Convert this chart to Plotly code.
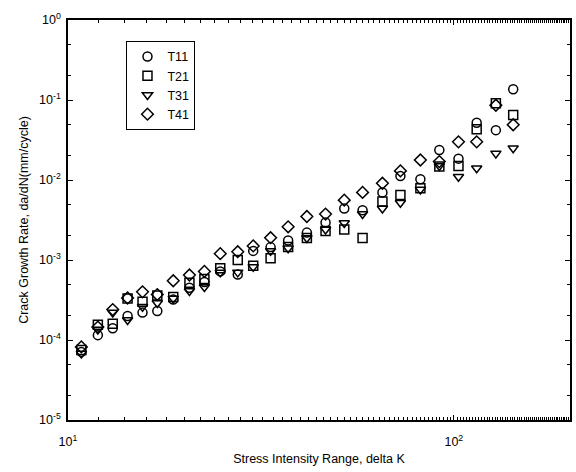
import plotly.graph_objects as go

# Stress intensity range (delta K) columns
delta_k = [10.83, 11.95, 13.06, 14.27, 15.6, 17.04, 18.74, 20.64, 22.57, 24.81,
           27.54, 30.2, 33.5, 37.2, 41.6, 46.5, 52.0, 58.0, 65.3, 72.7,
           81.9, 91.7, 102.8, 114.6, 128.5, 142.5]

t11 = [7.1e-5, 1.15e-4, 1.4e-4, 2.0e-4, 2.2e-4, 2.3e-4, 3.2e-4, 4.5e-4, 5.3e-4, 7.2e-4,
       6.6e-4, 1.3e-3, 1.45e-3, 1.75e-3, 2.2e-3, 2.95e-3, 4.4e-3, 4.2e-3, 7.0e-3, 1.12e-2,
       1.02e-2, 2.37e-2, 1.85e-2, 5.2e-2, 4.2e-2, 1.36e-1]
t21 = [7.5e-5, 1.55e-4, 1.6e-4, 3.3e-4, 3.0e-4, 3.6e-4, 3.45e-4, 5.2e-4, 5.8e-4, 7.9e-4,
       1.0e-3, 8.5e-4, 1.05e-3, 1.45e-3, 1.88e-3, 2.3e-3, 2.4e-3, 1.88e-3, 5.4e-3, 6.5e-3,
       7.9e-3, 1.47e-2, 1.5e-2, 4.3e-2, 9.1e-2, 6.5e-2]
t31 = [6.8e-5, 1.35e-4, 2.2e-4, 1.78e-4, 2.6e-4, 2.9e-4, 3.3e-4, 4.1e-4, 4.6e-4, 7.0e-4,
       7.0e-4, 8.2e-4, 1.3e-3, 1.4e-3, 1.88e-3, 2.4e-3, 2.9e-3, 3.75e-3, 4.4e-3, 5.2e-3,
       7.6e-3, 1.5e-2, 1.1e-2, 1.4e-2, 2.15e-2, 2.5e-2]
t41 = [8.2e-5, 1.45e-4, 2.4e-4, 3.35e-4, 4.0e-4, 3.7e-4, 5.5e-4, 6.5e-4, 7.2e-4, 1.2e-3,
       1.27e-3, 1.5e-3, 1.9e-3, 2.6e-3, 3.5e-3, 3.75e-3, 5.6e-3, 7.0e-3, 9.1e-3, 1.3e-2,
       1.78e-2, 1.7e-2, 3.0e-2, 3.0e-2, 8.6e-2, 4.9e-2]

series_names = ["T11", "T21", "T31", "T41"]
series_values = [t11, t21, t31, t41]
series_symbols = ["circle-open", "square-open", "triangle-down-open", "diamond-open"]

x_tickvals = [10, 100]
x_ticktext = ["10<sup>1</sup>", "10<sup>2</sup>"]
y_tickvals = [1e-5, 1e-4, 1e-3, 1e-2, 1e-1, 1]
y_ticktext = ["10<sup>-5</sup>", "10<sup>-4</sup>", "10<sup>-3</sup>",
              "10<sup>-2</sup>", "10<sup>-1</sup>", "10<sup>0</sup>"]

fig = go.Figure()
for name, vals, sym in zip(series_names, series_values, series_symbols):
    fig.add_trace(go.Scatter(
        x=delta_k, y=vals, mode="markers", name=name,
        marker=dict(symbol=sym, size=9, color="black", line=dict(width=1.5, color="black")),
    ))

font_family = "Liberation Sans, Arial, sans-serif"
fig.update_layout(
    width=576, height=472,
    margin=dict(l=68, r=4, t=20, b=52),
    paper_bgcolor="white", plot_bgcolor="white",
    font=dict(family=font_family, size=12, color="black"),
    legend=dict(
        x=0.1165, y=0.948, xanchor="left", yanchor="top",
        bordercolor="black", borderwidth=1, bgcolor="white",
        font=dict(size=12.5, family=font_family, color="black"),
        tracegroupgap=0, itemwidth=30,
    ),
    showlegend=True,
)
fig.update_xaxes(
    type="log", range=[1, 2.30103],
    tickvals=x_tickvals, ticktext=x_ticktext,
    ticks="inside", ticklen=5, tickcolor="black", tickwidth=1,
    minor=dict(ticks="inside", ticklen=3, tickcolor="black", showgrid=False),
    showline=True, linecolor="black", linewidth=1.5, mirror="ticks",
    showgrid=False, zeroline=False, ticklabelstandoff=9,
    title=dict(text="Stress Intensity Range, delta K", font=dict(size=12.5), standoff=6),
    tickfont=dict(size=12.5),
)
fig.update_yaxes(
    type="log", range=[-5, 0],
    tickvals=y_tickvals, ticktext=y_ticktext,
    ticks="inside", ticklen=5, tickcolor="black", tickwidth=1,
    minor=dict(ticks="inside", ticklen=3, tickcolor="black", showgrid=False),
    showline=True, linecolor="black", linewidth=1.5, mirror="ticks",
    showgrid=False, zeroline=False, ticklabelstandoff=3,
    title=dict(text="Crack Growth Rate, da/dN(mm/cycle)", font=dict(size=12.5), standoff=8),
    tickfont=dict(size=12.5),
)

fig.write_html("out.html")
